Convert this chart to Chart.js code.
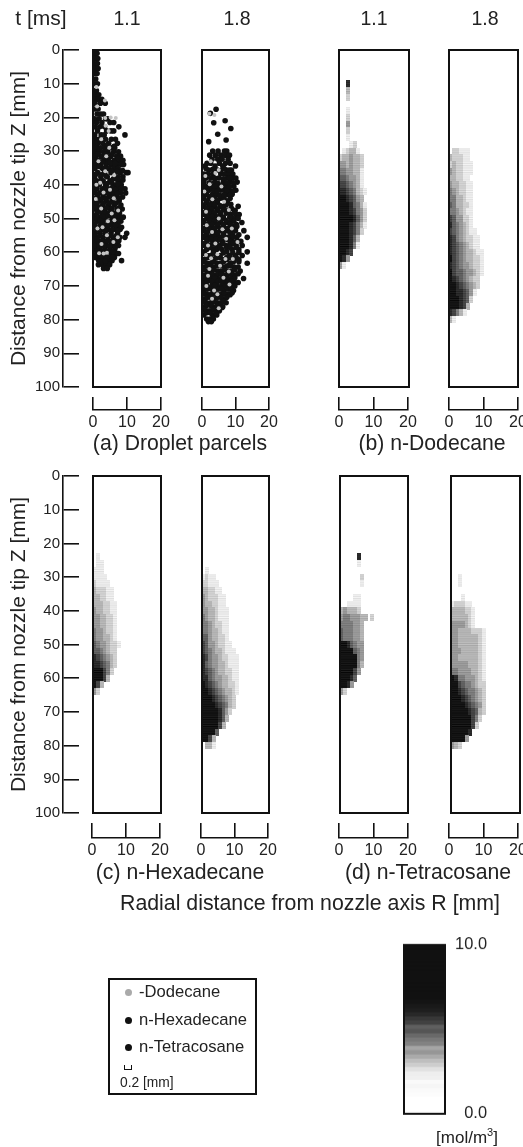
<!DOCTYPE html>
<html>
<head>
<meta charset="utf-8">
<title>Spray parcels and vapour concentration</title>
<script src="https://cdn.jsdelivr.net/npm/chart.js@4"></script>
<style>
html, body { margin: 0; padding: 0; background: #fff; }
#page { position: relative; width: 523px; height: 1147px; overflow: hidden; font-family: "Liberation Sans", Arial, sans-serif; color: #222; filter: blur(0.45px); }
#page canvas { position: absolute; }
.lbl { position: absolute; white-space: nowrap; transform: translate(-50%, -50%); }
#legend { position: absolute; left: 108px; top: 978px; width: 145px; height: 113px; border: 2px solid #111; }
#legend div { position: absolute; left: 29px; font-size: 16.6px; transform: translateY(-50%); white-space: nowrap; }
#legend i { position: absolute; left: -14.5px; top: 50%; width: 7px; height: 7px; margin-top: -3px; border-radius: 50%; background: #111; }
</style>
</head>
<body>
<div id="page"></div>
<script>
const yTicks = [0, 10, 20, 30, 40, 50, 60, 70, 80, 90, 100];
const rTicks = [0, 10, 20];
const timeLabels = ["1.1", "1.8"];
const captions = ["(a) Droplet parcels", "(b) n-Dodecane", "(c) n-Hexadecane", "(d) n-Tetracosane"];
const legendLabels = ["-Dodecane", "n-Hexadecane", "n-Tetracosane"];

// droplet rows: [Z, [R, R, ...]] in mm
const a1Black = [
  [1, [.5, 1.2]], [2.5, [.6, 1.4]], [4, [.4, 1.3]], [5.5, [.7, 1.5]], [7, [.5, 1.2]], [8.6, [.8]], [10, [.5, 1.3]],
  [12, [.4, 1]], [13.3, [.7, 1.7]], [14.6, [.5, 1.5, 2.6]], [15.8, [.6, 2.2, 3.6]], [17.5, [.5, 1.5]], [19, [1.2, 2.3, 3.1]],
  [20.4, [.4, 1.8, 3.7, 4.3]], [21.5, [1, 2.6, 5, 6.1]], [22.8, [.6, 2, 3.4, 7.6]], [24, [1.3, 4, 5.3, 6.1]],
  [25.2, [.5, 2.4, 3.3, 9.4]], [26.5, [.8, 1.7, 3.7, 5.4, 6.6]], [27.7, [.4, 1.4, 2.9, 4.6, 7.2]], [29, [1, 2.2, 3.5, 5.5, 6.4]],
  [30.2, [.5, 1.7, 3.1, 4.4, 6.1, 7.5]], [31.5, [.9, 2.4, 3.8, 5.2, 7, 8.1]], [32.7, [.4, 1.5, 3.2, 4.5, 6.2, 7.6, 8.8]],
  [34, [1, 2.2, 3.9, 5.4, 6.9, 8.3, 9]], [35.2, [.6, 2.8, 4.6, 6.1, 7.4]], [36.4, [1.4, 3.4, 5.3, 8, 9.8, 10.3]],
  [37.6, [.5, 2.3, 4.2, 6.6, 7.4, 8.8]], [38.8, [1.1, 3, 5, 7.8]], [40, [.4, 1.9, 3.7, 5.9, 6.8, 8.3]], [41.2, [1.2, 2.8, 4.5, 7.3, 9.4]],
  [42.4, [.6, 2.1, 3.6, 5.4, 6.2, 8.1, 9.6]], [43.6, [1.4, 3, 4.7, 7, 8.7]], [44.8, [.4, 2.3, 3.9, 5.6, 7.7]],
  [46, [1, 2.9, 4.6, 6.3, 8.2]], [47.2, [.6, 1.8, 3.5, 5.2, 7.1, 8.6]], [48.4, [1.2, 2.7, 4.2, 6, 7.8]], [49.6, [.5, 2, 3.6, 5.6, 7.2, 8.9]],
  [50.8, [1.4, 3, 4.7, 6.4, 8.2]], [52, [.6, 2.2, 3.8, 5.6, 7.4]], [53.2, [1.1, 2.8, 4.5, 6.6, 8]], [54.4, [.4, 2, 3.5, 5.3, 7.2, 9.9]],
  [55.6, [1.2, 2.9, 4.4, 6, 7.9, 9.4]], [56.8, [.5, 1.9, 3.4, 5.1, 6.8]], [58, [1, 2.5, 4, 5.8, 7.5]], [59.2, [.5, 2, 3.5, 5, 6.4]],
  [60.4, [1.2, 5.4, 6.8, 7.5]], [61.6, [.8, 1.9, 3, 5.3, 6.3]], [62.5, [1.7, 3.5, 4.6, 5.6, 8.4]], [63.7, [1.6, 2.8, 3.9, 4.9]], [64.8, [3.1, 4.2]]
];
// more parcels between those rows: [R, Z]
const a1Fill = [[2.1, 27.2], [4.1, 28.3], [6.2, 28.6], [1.4, 30.8], [3.7, 30.9], [5.6, 31], [7.4, 32.2], [2.8, 33.2], [5.1, 33.4], [6.5, 33.6], [1.8, 34.6], [3.3, 35],
  [5.4, 35.9], [7, 36], [8.7, 35.8], [.8, 36.9], [2.4, 37], [3.8, 37.3], [6, 38.2], [7.1, 38.4], [8.8, 38.6], [.4, 39.2], [2.2, 39], [4.2, 39.6], [5.4, 39.2], [7.4, 39.8],
  [.9, 41], [3.6, 41], [5.6, 41], [6.6, 41.4], [8.4, 41], [1.4, 42.8], [4.6, 42.4], [7.2, 42.6], [.5, 44], [2.4, 44.2], [3.8, 44], [5.8, 43.8], [7.8, 44.1], [1.2, 45.4], [3, 45.6],
  [4.8, 45.4], [6.8, 45.4], [.5, 46.8], [2.1, 46.6], [4, 46.8], [5.6, 47], [7.7, 46.9], [1.3, 48], [3.2, 48.2], [5, 48.2], [6.9, 48.3], [.5, 49.2], [2.8, 49.4], [4.4, 49.2],
  [6.4, 49.7], [8, 49.6], [1, 50.2], [2.2, 50.6], [5.4, 51], [7.2, 50.8], [.4, 51.6], [3, 52.2], [4.6, 51.8], [6.6, 52], [8.4, 52.6], [1.2, 53.4], [3.7, 53.6], [5.6, 53.4],
  [7.4, 53.6], [.5, 55.2], [2, 55.2], [5.2, 55], [6.8, 55.2], [1.1, 56], [2.8, 56.8], [4.3, 56.6], [6, 56.6], [7.6, 56.6], [.4, 58], [1.8, 58], [3.3, 58.2], [4.9, 58.2], [6.6, 58.4],
  [1.2, 59.6], [2.7, 59.8], [4.2, 59.8], [5.8, 59.8], [.6, 60.8], [2.4, 61.2], [4.1, 61.4], [5.7, 61.4], [2.6, 62.8], [3.6, 62.6]];
const a1Gray = [[1, 11], [3.5, 15], [1.2, 16.8], [3.6, 20.2], [5.2, 20], [6.7, 20.2], [3.7, 22.5], [4.6, 24], [2.4, 26.5], [4.8, 29], [1.6, 33],
  [3.6, 36], [6.2, 37.2], [1, 40], [2.1, 39.4], [3.1, 42.3], [6.1, 44], [5.5, 48.5], [4.4, 50.8], [6.3, 50.5], [1.3, 53], [4.1, 55], [6, 57],
  [2.5, 57.6], [1.8, 60.3], [3.1, 60.4], [4.1, 60.2], [7.3, 55.6], [2.4, 47], [3.9, 31.5], [.8, 44.2], [5, 41.5], [7.4, 47.6], [2.8, 52.6]];

const a2Black = [
  [17.6, [4.2]], [18.8, [2.5]], [21, [6.9]], [21.6, [3.5]], [23.3, [8.6]], [25, [4.7]], [26.7, [7.2]], [27.2, [2]],
  [30, [3.2, 4.8, 6.7, 7.4]], [31.2, [2.3, 4, 5.6, 7, 8.2]], [32.4, [3, 4.7, 6, 7.8]], [33.6, [1.5, 2.6, 5.2, 7, 8.4]], [34.4, [.8, 3.9, 6.2, 10]],
  [35.6, [2, 4.6, 7.4, 8.8]], [36.8, [.6, 1.8, 3.2, 5.6, 6.8, 8, 9.2]], [38, [1.2, 2.6, 5, 7.6, 9, 10.1]], [39.2, [.6, 3.8, 6.4, 8.4, 10.5]],
  [40.4, [1.6, 3, 4.6, 7.2, 9.5]], [41.6, [.6, 2.2, 5.6, 6.6, 8.2, 10.1]], [42.8, [1.3, 3.2, 4.4, 7.6, 9]], [44, [.5, 2.2, 3.8, 5.4, 6.6, 8.4]],
  [45.2, [1.3, 3, 4.6, 7.2]], [46.4, [.6, 2.2, 3.7, 5.6, 6.5, 10.8]], [47.6, [1.5, 3, 4.6, 7.8, 9.9]], [48.8, [.7, 2.4, 3.8, 5.4, 8.6, 10.3, 11.1]],
  [50, [1.6, 3.2, 4.6, 6.4, 9.4, 10.8]], [51.2, [.6, 2.4, 3.9, 5.5, 7.4, 8.4, 11.9]], [52.4, [1.4, 3, 4.7, 6.4, 9.2, 10.4]],
  [53.6, [.6, 2.2, 3.7, 5.6, 7.6, 8.6, 10, 12.5]], [54.8, [1.4, 3.1, 4.6, 6.4, 9.2, 11]], [55.6, [.5, 2.3, 5.4, 7.6, 8.4, 10.4, 13.5]],
  [56.8, [1.5, 3.2, 4.3, 6.2, 9, 11.6]], [58, [.6, 2.4, 5, 7.2, 8.2, 10.2, 12]], [59.2, [1.4, 3.4, 4.4, 6, 9, 11]], [59.9, [.6, 7.4, 13.5]],
  [61, [1.6, 2.6, 4.2, 5.4, 8.2, 10, 12]], [62.2, [.6, 3.4, 6.6, 7.4, 9.4, 11]], [63.3, [1.6, 2.6, 4.6, 5.6, 8.4, 13.5]],
  [64.4, [.6, 3.6, 6.8, 9.6, 10.8]], [65.6, [1.8, 2.8, 4.8, 5.8, 7.8, 8.8, 11.4]], [66.8, [.6, 3.8, 6.8, 9.8]], [67.8, [1.6, 2.8, 4.8, 5.8, 7.8, 8.8, 12.4]],
  [69, [.6, 3.8, 6.8, 9.8, 10.8]], [70.2, [1.6, 2.8, 4.8, 5.8, 7.8, 8.8]], [71.4, [.6, 3.6, 6.6, 9.4]], [72.6, [1.6, 2.6, 4.6, 5.6, 7.6, 8.4]],
  [73.8, [.6, 3.6, 6.4]], [75, [1.4, 2.6, 4.6, 5.6, 7.2]], [76.2, [.6, 3.4, 6.2]], [77.4, [1.4, 2.4, 4.2, 5.2]], [78.6, [.5, 3.2, 4.4]],
  [79.8, [1.4, 2.4, 3.4]], [80.6, [1.9, 2.8]]
];
const a2Fill = [[1.2, 35.2], [3.2, 35.4], [5.6, 35.8], [6.6, 35.2], [8.2, 35.6], [.6, 38], [3.8, 38], [6.4, 38.2], [8.3, 38], [2.2, 39.4], [4.8, 39.6], [7.4, 39.4], [9.4, 39.4],
  [.6, 40.6], [2.4, 40.8], [3.8, 40.6], [5.8, 40.4], [8.2, 40.6], [1.4, 42], [3.6, 41.8], [4.6, 41.8], [7.4, 41.8], [9.2, 41.9], [.6, 43.2], [2.2, 43.4], [5.4, 43.2], [6.6, 43], [8.4, 43.1],
  [1.3, 44.8], [3, 44.8], [4.6, 44.6], [7.6, 44.8], [.6, 46], [2.3, 46], [3.8, 46], [5.4, 46.2], [7.2, 46], [8.6, 45.8], [1.3, 47], [2.9, 47.2], [4.7, 47.2], [6.4, 47.4], [8.8, 47],
  [.6, 48.2], [2.2, 48.2], [3.7, 48.4], [5.6, 48.3], [7.3, 48.4], [9.6, 48.4], [1.5, 49.6], [3, 49.4], [4.6, 49.6], [6.4, 49.6], [8.3, 49.6], [.5, 50.6], [2.3, 50.6], [3.8, 50.6],
  [5.5, 50.6], [7.2, 50.6], [9.5, 50.8], [1.4, 51.8], [3, 51.8], [4.7, 51.8], [6.4, 51.8], [8.4, 51.8], [10.3, 51.8], [.6, 52.9], [2.2, 53], [3.8, 53], [5.6, 53], [7.6, 53], [9, 53],
  [1.4, 54.2], [3.1, 54.2], [4.6, 54.2], [6.4, 54.2], [8.4, 54.2], [.6, 55.2], [3.6, 55.4], [6.4, 55.2], [9.2, 55.4], [1.5, 56.2], [2.8, 56.2], [4.3, 56.2], [5.4, 56.4], [7.6, 56.2],
  [8.4, 56.8], [10.4, 56.6], [.6, 57.4], [3.4, 57.6], [6.2, 57.4], [9.2, 57.4], [1.4, 58.6], [2.4, 58.6], [4.4, 58.6], [5.4, 58.6], [7.4, 58.6], [8.4, 58.6], [10.2, 58.6],
  [.6, 60.4], [3.4, 60.2], [6.4, 60.2], [9.2, 60.2], [11, 60], [1.6, 61.6], [2.6, 61.6], [4.4, 61.6], [5.4, 61.6], [7.4, 61.6], [8.4, 61.6], [10.2, 61.6], [.6, 62.8], [3.6, 62.8],
  [6.4, 62.8], [9.4, 62.8], [11, 62.8], [1.6, 64], [2.6, 64], [4.6, 64], [5.6, 64], [7.6, 64], [8.6, 64], [.6, 65.2], [3.6, 65.2], [6.8, 65.2], [9.8, 65.2], [1.6, 66.4], [2.8, 66.4],
  [4.8, 66.4], [5.8, 66.4], [7.8, 66.4], [8.8, 66.4], [10.8, 66.4], [.6, 67.6], [3.8, 67.6], [6.8, 67.6], [9.8, 67.6], [1.6, 68.6], [2.8, 68.6], [4.8, 68.6], [5.8, 68.6], [7.8, 68.6],
  [8.8, 68.6], [.6, 70], [3.8, 69.8], [6.8, 70], [9.8, 70], [1.6, 71], [2.8, 71], [4.8, 71], [5.8, 71], [7.8, 71], [8.6, 71], [.6, 72.2], [3.6, 72.2], [6.6, 72.2], [9, 72], [1.6, 73.4],
  [2.6, 73.4], [4.6, 73.4], [5.6, 73.4], [7.4, 73.4], [.6, 74.6], [3.6, 74.6], [6.4, 74.6], [1.4, 75.8], [2.6, 75.8], [4.6, 75.8], [5.6, 75.8], [.6, 77], [3.4, 77], [6, 76.4],
  [1.4, 78], [2.4, 78], [4.2, 78]];
const a2Gray = [[2.2, 18.9], [3.7, 19.3], [2.6, 33], [4, 36.5], [5, 35.6], [1, 37.4], [2.3, 39.8], [5.8, 40.5], [6.6, 45], [8, 47.5],
  [1.2, 48], [5, 50], [3, 54], [7.2, 56], [8.9, 53], [1.8, 58], [4.6, 60.6], [7, 62], [9.2, 62], [2.2, 65], [5.4, 64], [6.4, 67.6],
  [1.3, 70], [3.6, 71.4], [4.6, 72.5], [3, 73.8], [8.2, 69.6], [5, 76.6], [1.2, 60.8], [10.6, 57], [.7, 42], [3.1, 44.3], [1.4, 52], [4, 57.4], [6.1, 53.2], [2.7, 61.8], [8, 65.7], [1.8, 67]];

// concentration rows: one string per 2 mm of Z, one digit per 1 mm of R (0 = none, 9 = full)
const b1Start = 10;
const b1Rows = ["0080", "0030", "0020", "", "001", "0020", "0040", "0020", "001", "000120", "0123310", "23343320", "4434332", "5544331",
  "6654431", "7765431", "88765321", "9987643", "99986531", "99987542", "99998642", "99987531", "9998752", "999863", "999851", "9987", "984", "41"];
const b2Start = 30;
const b2Rows = ["02211100", "3222110", "2322111", "4322111", "3322110", "4332211", "5432211", "5533211", "6533221", "5543211", "7644221", "8654321",
  "76543211", "875432211", "876543211", "8765433211", "9765433221", "8765443221", "9766544321", "987654322", "998765432", "99887641", "9998762", "999873", "87531", "31"];
const c1Start = 24;
const c1Rows = ["01", "0110", "1110", "11110", "21111", "322211", "332211", "3332211", "4332211", "4433221", "4433221", "5443221", "5443321",
  "65443221", "6654322", "8765432", "8876532", "999752", "99973", "973", "42"];
const c2Start = 28;
const c2Rows = ["01", "1211", "22111", "3322110", "4322211", "4332211", "44332111", "54332111", "55432211", "55433211", "66433221", "764432211",
  "7654332111", "87544322111", "86544332111", "87654332211", "88654433211", "98765433221", "99876543321", "9998765432", "9999876532", "999998642",
  "99999863", "9999973", "99996", "9973", "0331"];
const d1Start = 24;
const d1Rows = ["000008", "000001", "", "0000002", "0000001", "", "000011", "0011110", "3433320", "4554443302", "5555443", "6555443", "6555443",
  "9986544", "9999654", "9999954", "9999953", "999974", "99986", "9984", "42"];
const d2Start = 30;
const d2Rows = ["001", "001", "", "0001", "1222110", "3333221", "3333321", "4444321", "4433332221", "4433333321", "4433333321", "4443333321", "4433333321",
  "4444433321", "5544443321", "9855444321", "9976554322", "9987655432", "9998765432", "9999876542", "9999987632", "999999752", "99999972", "999998", "99994", "432"];

// colour bar, bottom to top, each band 0.25 mol/m3
const barGrays = [255, 255, 255, 255, 252, 250, 246, 250, 240, 238, 225, 205, 190, 170, 150, 165, 130, 120, 105, 85,
  95, 65, 55, 40, 30, 25, 20, 17, 17, 17, 17, 17, 17, 17, 17, 17, 17, 17, 17, 17];
const levelGrays = [255, 232, 205, 178, 150, 122, 94, 66, 40, 17];
// scan streaks inside one cell, top to bottom
const streakShades = [0, 10, -8, 14, -10, 6, 0];

const page = document.getElementById("page");
Chart.defaults.font.family = '"Liberation Sans", Arial, sans-serif';
Chart.defaults.color = "#222";

function makeCanvas(left, top, w, h) {
    const c = document.createElement("canvas");
    c.width = w;
    c.height = h;
    c.style.left = left + "px";
    c.style.top = top + "px";
    page.appendChild(c);
    return c;
}

function addLabel(text, x, y, size) {
    const el = document.createElement("div");
    el.className = "lbl";
    el.textContent = text;
    el.style.left = x + "px";
    el.style.top = y + "px";
    el.style.fontSize = size + "px";
    page.appendChild(el);
    return el;
}

const framePlugin = {
    id: "frame",
    afterDraw(chart) {
        const a = chart.chartArea;
        chart.ctx.save();
        chart.ctx.strokeStyle = "#111";
        chart.ctx.lineWidth = 2;
        chart.ctx.strokeRect(a.left, a.top, a.right - a.left, a.bottom - a.top);
        chart.ctx.restore();
    }
};

const softCells = {
    id: "softCells",
    beforeDatasetsDraw(chart) { chart.ctx.filter = "blur(0.7px)"; },
    afterDatasetsDraw(chart) { chart.ctx.filter = "none"; }
};

function dropsToPoints(rows) {
    const pts = [];
    rows.forEach(([z, rs]) => rs.forEach(r => pts.push({ x: r, y: z })));
    return pts;
}

function pairsToPoints(pairs) {
    return pairs.map(([r, z]) => ({ x: r, y: z }));
}

function cellSprite(gray, w, h) {
    const c = document.createElement("canvas");
    c.width = w;
    c.height = h;
    const g = c.getContext("2d");
    for (let i = 0; i < h; i++) {
        const v = Math.max(0, Math.min(255, gray + streakShades[i]));
        g.fillStyle = `rgb(${v},${v},${v})`;
        g.fillRect(0, i, w, 1);
    }
    return c;
}
const sprites = levelGrays.map(g => cellSprite(g, 4, 7));

function rowsToCells(rows, zStart) {
    const pts = [];
    rows.forEach((row, i) => {
        [...row].forEach((ch, j) => {
            if (ch !== "0") pts.push({ x: j + 0.5, y: zStart + 2 * i, level: Number(ch) });
        });
    });
    return pts;
}

function hiddenScales() {
    return {
        x: { type: "linear", min: 0, max: 20, display: false },
        y: { type: "linear", min: 0, max: 100, reverse: true, display: false }
    };
}

function panelChart(x0, x1, y0, y1, datasets, extraPlugins) {
    const pad = 2;
    const c = makeCanvas(x0 - pad, y0 - pad, x1 - x0 + 2 * pad, y1 - y0 + 2 * pad);
    return new Chart(c, {
        type: "scatter",
        data: { datasets },
        options: {
            responsive: false,
            animation: false,
            layout: { padding: pad, autoPadding: false },
            scales: hiddenScales(),
            plugins: { legend: { display: false }, tooltip: { enabled: false } }
        },
        plugins: [framePlugin].concat(extraPlugins || [])
    });
}

function dropPanel(x0, x1, y0, y1, black, fill, gray) {
    return panelChart(x0, x1, y0, y1, [
        { data: pairsToPoints(gray), backgroundColor: "#c4c4c4", borderWidth: 0, pointRadius: 2, order: 1 },
        { data: dropsToPoints(black).concat(pairsToPoints(fill)), backgroundColor: "#111", borderWidth: 0, pointRadius: 2.8, order: 2 }
    ]);
}

function fieldPanel(x0, x1, y0, y1, rows, zStart) {
    return panelChart(x0, x1, y0, y1, [{
        data: rowsToCells(rows, zStart),
        pointStyle: ctx => sprites[ctx.raw.level],
        pointRadius: 2
    }], [softCells]);
}

function rBracket(x0, x1, yTop, yLine) {
    const side = 16;
    const top = 3;
    const labelH = 24;
    const c = makeCanvas(x0 - side, yTop - top, x1 - x0 + 2 * side, yLine - yTop + top + labelH);
    return new Chart(c, {
        type: "scatter",
        data: { datasets: [] },
        options: {
            responsive: false,
            animation: false,
            layout: { padding: { left: side, right: side, top, bottom: 0 } },
            scales: {
                x: {
                    type: "linear", min: 0, max: 20,
                    afterFit: s => { s.height = labelH; },
                    afterBuildTicks: s => { s.ticks = rTicks.map(v => ({ value: v })); },
                    border: { color: "#111", width: 1.6 },
                    grid: { color: "#111", lineWidth: 1.6, drawTicks: false },
                    ticks: { padding: 3, maxRotation: 0, font: { size: 16 } }
                },
                y: { display: false }
            },
            plugins: { legend: { display: false }, tooltip: { enabled: false } }
        }
    });
}

function zAxis(y0, y1) {
    const axisX = 63, tickEnd = 79, pad = 14;
    const c = makeCanvas(0, y0 - pad, tickEnd + 1, y1 - y0 + 2 * pad);
    return new Chart(c, {
        type: "scatter",
        data: { datasets: [] },
        options: {
            responsive: false,
            animation: false,
            layout: { padding: { top: pad, bottom: pad, right: 1 } },
            scales: {
                x: { display: false },
                y: {
                    type: "linear", min: 0, max: 100, reverse: true,
                    afterFit: s => { s.width = axisX; },
                    afterBuildTicks: s => { s.ticks = yTicks.map(v => ({ value: v })); },
                    border: { color: "#111", width: 1.6 },
                    grid: { color: "#111", lineWidth: 1.6, drawTicks: false },
                    ticks: { padding: 3, font: { size: 15 } },
                    title: { display: true, text: "Distance from nozzle tip Z [mm]", font: { size: 21 }, padding: { top: 7, bottom: 0 } }
                }
            },
            plugins: { legend: { display: false }, tooltip: { enabled: false } }
        }
    });
}

function colorBar() {
    const top = 945, bottom = 1113, left = 404, right = 445, pad = 14, labelRight = 487;
    const w = labelRight - (left - 2);
    const c = makeCanvas(left - 2, top - pad, w, bottom - top + 2 * pad);
    const chart = new Chart(c, {
        type: "bar",
        data: {
            labels: ["c"],
            datasets: barGrays.map(g => ({
                data: [0.25],
                backgroundColor: `rgb(${g},${g},${g})`,
                barPercentage: 1,
                categoryPercentage: 1
            }))
        },
        options: {
            responsive: false,
            maintainAspectRatio: false,
            animation: false,
            layout: { padding: { left: 2, top: pad, bottom: pad }, autoPadding: false },
            scales: {
                x: { stacked: true, display: false },
                y: {
                    stacked: true, min: 0, max: 10, position: "right",
                    afterFit: s => { s.width = w - 2 - (right - left); },
                    afterBuildTicks: s => { s.ticks = [{ value: 0 }, { value: 10 }]; },
                    border: { display: false },
                    grid: { display: false },
                    ticks: { padding: 6, crossAlign: "far", font: { size: 16.4 }, callback: v => v.toFixed(1) }
                }
            },
            plugins: { legend: { display: false }, tooltip: { enabled: false } }
        },
        plugins: [framePlugin]
    });
    // the axis labels take some room, so grow the canvas until the bar has its full height
    const missing = (bottom - top) - (chart.chartArea.bottom - chart.chartArea.top);
    if (missing > 0) chart.resize(w, c.height + missing);
    c.style.top = top - chart.chartArea.top + "px";
    return chart;
}

// upper row
zAxis(50, 387);
dropPanel(93, 161, 50, 387, a1Black, a1Fill, a1Gray);
dropPanel(202, 269, 50, 387, a2Black, a2Fill, a2Gray);
fieldPanel(339, 409, 50, 387, b1Rows, b1Start);
fieldPanel(449, 518, 50, 387, b2Rows, b2Start);
rBracket(93, 161, 397, 410);
rBracket(202, 269, 397, 410);
rBracket(339, 408, 397, 410);
rBracket(449, 518, 397, 410);

// lower row
zAxis(476, 813);
fieldPanel(93, 161, 476, 813, c1Rows, c1Start);
fieldPanel(202, 269, 476, 813, c2Rows, c2Start);
fieldPanel(340, 408, 476, 813, d1Rows, d1Start);
fieldPanel(451, 520, 476, 813, d2Rows, d2Start);
rBracket(92, 160, 823, 838);
rBracket(201, 268, 823, 838);
rBracket(339, 408, 823, 838);
rBracket(449, 518, 823, 838);

colorBar();

addLabel("t [ms]", 41, 18, 21);
[127, 237, 374, 485].forEach((x, i) => addLabel(timeLabels[i % 2], x, 18, 19.5));
addLabel(captions[0], 180, 443, 21.2);
addLabel(captions[1], 432, 443, 21.2);
addLabel(captions[2], 180, 872, 21.2);
addLabel(captions[3], 428, 872, 21.2);
addLabel("Radial distance from nozzle axis R [mm]", 310, 903, 21.3);
const unit = addLabel("", 467, 1137, 17);
unit.innerHTML = "[mol/m<sup style='font-size:11px'>3</sup>]";

const legend = document.createElement("div");
legend.id = "legend";
legendLabels.forEach((t, i) => {
    const row = document.createElement("div");
    row.textContent = t;
    row.style.top = 12 + i * 27.5 + "px";
    const dot = document.createElement("i");
    if (i === 0) dot.style.background = "#aaa";
    row.appendChild(dot);
    legend.appendChild(row);
});
const scaleNote = document.createElement("div");
scaleNote.textContent = "0.2 [mm]";
scaleNote.style.left = "10px";
scaleNote.style.top = "102px";
scaleNote.style.fontSize = "13.8px";
legend.appendChild(scaleNote);
const bracket = document.createElement("span");
bracket.style.cssText = "position:absolute;left:14px;top:85px;width:6px;height:4px;border:solid #111;border-width:0 1.5px 1.5px 1.5px;";
legend.appendChild(bracket);
page.appendChild(legend);
</script>
</body>
</html>
